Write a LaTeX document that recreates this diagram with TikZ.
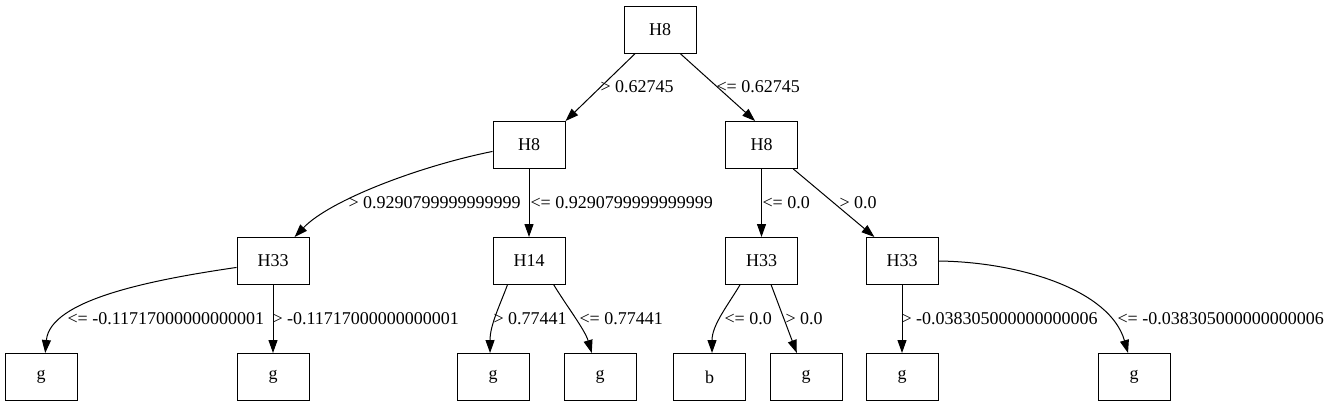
\documentclass[tikz,border=0pt]{standalone}
\usepackage{fontspec}
\setmainfont{Liberation Serif}
\usetikzlibrary{arrows.meta}

\begin{document}
\begin{tikzpicture}[x=1pt, y=-1pt, line width=1pt,
  font=\fontsize{18}{20}\selectfont,
  decbox/.style={draw, rectangle, minimum width=72pt, minimum height=47pt, inner sep=0pt},
  link/.style={-{Triangle[length=13pt,width=9pt]}},
  cond/.style={anchor=west, inner sep=0pt}]
  \useasboundingbox (0,0) rectangle (1329,407);
  \node[decbox] (root) at (660,29.5) {H8};
  \node[decbox] (n1) at (529,145) {H8};
  \node[decbox] (n2) at (761.5,145) {H8};
  \node[decbox] (n11) at (273,261) {H33};
  \node[decbox] (n12) at (529,261) {H14};
  \node[decbox] (n21) at (761.5,261) {H33};
  \node[decbox] (n22) at (902,261) {H33};
  \node[decbox] (l1) at (41,377) {g};
  \node[decbox] (l2) at (273,377) {g};
  \node[decbox] (l3) at (493,377) {g};
  \node[decbox] (l4) at (600,377) {g};
  \node[decbox] (l5) at (709.5,377) {b};
  \node[decbox] (l6) at (806,377) {g};
  \node[decbox] (l7) at (902,377) {g};
  \node[decbox] (l8) at (1134,377) {g};
  \draw[link] (root) -- (n1.north east);
  \draw[link] (root.-50) -- (n2.105);
  \draw[link] (n1.190) .. controls (420,166) and (330,200) .. (n11.48);
  \draw[link] (n1) -- (n12);
  \draw[link] (n2) -- (n21);
  \draw[link] (n2.-37) -- (n22.139);
  \draw[link] (n11.190) .. controls (150,280) and (50,300) .. (l1.80);
  \draw[link] (n11) -- (l2);
  \draw[link] (n12.-132) .. controls (500,305) and (490,325) .. (l3.97);
  \draw[link] (n12.-44) .. controls (566,305) and (585,330) .. (l4.109);
  \draw[link] (n21.-132) .. controls (728,305) and (712,325) .. (l5.84);
  \draw[link] (n21.-68) -- (l6.111);
  \draw[link] (n22) -- (l7);
  \draw[link] (n22.east) .. controls (1020,262) and (1110,290) .. (l8.104);
  \node[cond] (c1) at (600,87) {> 0.62745};
  \node[cond] (c2) at (716,87) {<= 0.62745};
  \node[cond] (c3) at (348,203) {> 0.9290799999999999};
  \node[cond] (c4) at (530,203) {<= 0.9290799999999999};
  \node[cond] (c5) at (762,203) {<= 0.0};
  \node[cond] (c6) at (839,203) {> 0.0};
  \node[cond] (c7) at (67,319) {<= -0.11717000000000001};
  \node[cond] (c8) at (272,319) {> -0.11717000000000001};
  \node[cond] (c9) at (493,319) {> 0.77441};
  \node[cond] (c10) at (579,319) {<= 0.77441};
  \node[cond] (c11) at (724,319) {<= 0.0};
  \node[cond] (c12) at (785,319) {> 0.0};
  \node[cond] (c13) at (901,319) {> -0.038305000000000006};
  \node[cond] (c14) at (1117,319) {<= -0.038305000000000006};
\end{tikzpicture}
\end{document}
